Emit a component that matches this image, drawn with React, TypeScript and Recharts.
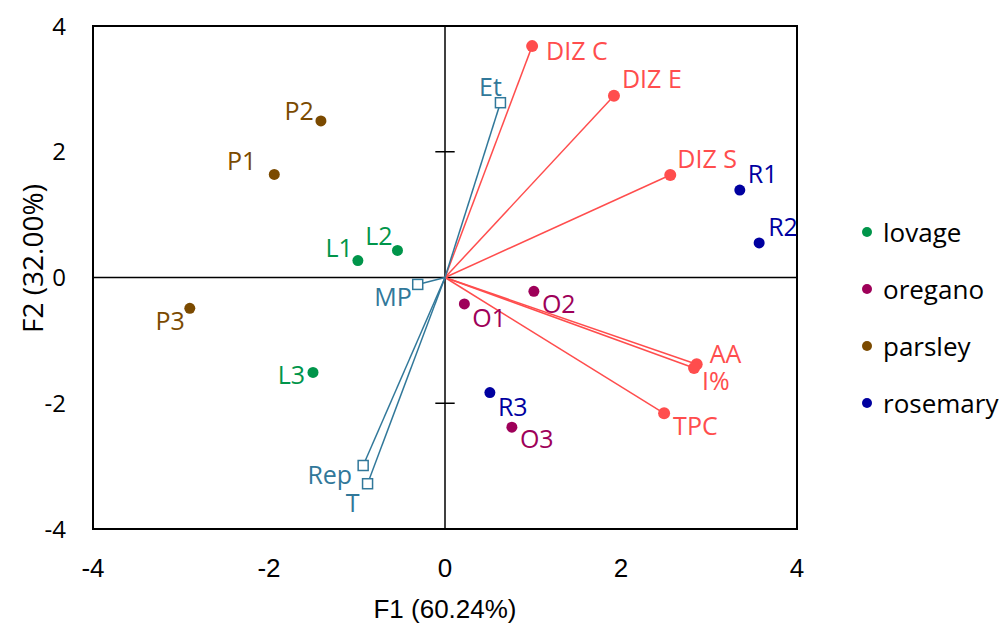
import {
  ReferenceArea,
  ReferenceLine,
  Scatter,
  ScatterChart,
  XAxis,
  YAxis,
} from 'recharts';

// PCA biplot: F1 vs F2 scores for samples, loadings for variables

const axisTicks = [-4, -2, 0, 2, 4];

const groups = ['lovage', 'oregano', 'parsley', 'rosemary'];

const lovage = [
  { name: 'L1', x: -0.99, y: 0.27 },
  { name: 'L2', x: -0.54, y: 0.43 },
  { name: 'L3', x: -1.5, y: -1.51 },
];

const oregano = [
  { name: 'O1', x: 0.22, y: -0.42 },
  { name: 'O2', x: 1.01, y: -0.22 },
  { name: 'O3', x: 0.76, y: -2.38 },
];

const parsley = [
  { name: 'P1', x: -1.94, y: 1.64 },
  { name: 'P2', x: -1.41, y: 2.49 },
  { name: 'P3', x: -2.9, y: -0.49 },
];

const rosemary = [
  { name: 'R1', x: 3.35, y: 1.39 },
  { name: 'R2', x: 3.57, y: 0.55 },
  { name: 'R3', x: 0.51, y: -1.83 },
];

// active variables (red) and supplementary variables (blue)
const activeVars = [
  { name: 'DIZ C', x: 0.99, y: 3.68 },
  { name: 'DIZ E', x: 1.92, y: 2.89 },
  { name: 'DIZ S', x: 2.56, y: 1.63 },
  { name: 'AA', x: 2.86, y: -1.38 },
  { name: 'I%', x: 2.83, y: -1.44 },
  { name: 'TPC', x: 2.49, y: -2.16 },
];

const suppVars = [
  { name: 'Et', x: 0.63, y: 2.78 },
  { name: 'MP', x: -0.31, y: -0.11 },
  { name: 'Rep', x: -0.93, y: -2.99 },
  { name: 'T', x: -0.88, y: -3.28 },
];

const groupData: Record<string, { name: string; x: number; y: number }[]> = {
  lovage,
  oregano,
  parsley,
  rosemary,
};

const groupColors: Record<string, string> = {
  lovage: '#00954A',
  oregano: '#9E0059',
  parsley: '#7B4A00',
  rosemary: '#0000A0',
};

const RED = '#FF4D4D';
const BLUE = '#31789A';

// label offsets from each marker (pixels)
const labelPos: Record<string, { anchor: 'start' | 'middle' | 'end'; dx: number; dy: number }> = {
  L1: { anchor: 'end', dx: -5, dy: -14 },
  L2: { anchor: 'end', dx: -5, dy: -15 },
  L3: { anchor: 'end', dx: -8, dy: 2 },
  O1: { anchor: 'start', dx: 8, dy: 13 },
  O2: { anchor: 'start', dx: 8, dy: 12 },
  O3: { anchor: 'start', dx: 8, dy: 11 },
  P1: { anchor: 'end', dx: -18, dy: -14 },
  P2: { anchor: 'end', dx: -7, dy: -11 },
  P3: { anchor: 'end', dx: -5, dy: 12 },
  R1: { anchor: 'start', dx: 8, dy: -17 },
  R2: { anchor: 'start', dx: 9, dy: -17 },
  R3: { anchor: 'start', dx: 8, dy: 13 },
  'DIZ C': { anchor: 'start', dx: 14, dy: 4 },
  'DIZ E': { anchor: 'start', dx: 8, dy: -18 },
  'DIZ S': { anchor: 'start', dx: 7, dy: -17 },
  AA: { anchor: 'start', dx: 13, dy: -11 },
  'I%': { anchor: 'start', dx: 8, dy: 12 },
  TPC: { anchor: 'start', dx: 9, dy: 12 },
  Et: { anchor: 'middle', dx: -10, dy: -17 },
  MP: { anchor: 'end', dx: -6, dy: 12 },
  Rep: { anchor: 'end', dx: -11, dy: 9 },
  T: { anchor: 'end', dx: -8, dy: 18 },
};

const FONT = '"Open Sans", sans-serif';
const NARROW = '"Liberation Sans Narrow", "Arial Narrow", sans-serif';

function markerShape(color: string, kind: 'dot' | 'bigdot' | 'square') {
  return (props: any) => {
    const { cx, cy, payload } = props;
    const p = labelPos[payload.name];
    return (
      <g>
        {kind === 'square' ? (
          <rect
            x={cx - 5}
            y={cy - 5}
            width={10}
            height={10}
            fill="#fff"
            stroke={color}
            strokeWidth={1.5}
          />
        ) : (
          <circle cx={cx} cy={cy} r={kind === 'bigdot' ? 6 : 5.5} fill={color} />
        )}
        <text
          x={cx + p.dx}
          y={cy + p.dy}
          textAnchor={p.anchor}
          dominantBaseline="central"
          fill={color}
          fontSize={25}
          fontFamily={FONT}
        >
          {payload.name}
        </text>
      </g>
    );
  };
}

function YTitle(props: any) {
  const { viewBox } = props;
  const x = 32;
  const y = viewBox.y + viewBox.height / 2 - 19;
  return (
    <text
      x={x}
      y={y}
      transform={`rotate(-90 ${x} ${y})`}
      textAnchor="middle"
      dominantBaseline="central"
      fill="#000"
      fontSize={28}
      fontFamily={FONT}
    >
      F2 (32.00%)
    </text>
  );
}

function GroupLegend() {
  return (
    <div
      style={{
        position: 'absolute',
        left: 857,
        top: 203,
        width: 143,
        fontFamily: FONT,
        fontSize: 26,
        color: '#000',
      }}
    >
      {groups.map((g) => (
        <div key={g} style={{ display: 'flex', alignItems: 'center', height: 57 }}>
          <svg width={22} height={14}>
            <circle cx={10} cy={7} r={5} fill={groupColors[g]} />
          </svg>
          <span style={{ marginLeft: 4 }}>{g}</span>
        </div>
      ))}
    </div>
  );
}

export default function App() {
  return (
    <div style={{ position: 'absolute', left: 0, top: 0, width: 1000, height: 624, background: '#fff' }}>
      <ScatterChart
        width={1000}
        height={624}
        margin={{ top: 26, right: 203, bottom: 0, left: 0 }}
      >
        <XAxis
          type="number"
          dataKey="x"
          domain={[-4, 4]}
          ticks={axisTicks}
          allowDataOverflow
          axisLine={false}
          tickLine={false}
          tickSize={0}
          tickMargin={30}
          height={95}
          tick={{ fill: '#000', fontSize: 26, fontFamily: NARROW }}
          label={{
            value: 'F1 (60.24%)',
            position: 'insideBottom',
            offset: 6,
            style: { fill: '#000', fontSize: 26, fontFamily: NARROW },
          }}
        />
        <YAxis
          type="number"
          dataKey="y"
          domain={[-4, 4]}
          ticks={axisTicks}
          allowDataOverflow
          axisLine={false}
          tickLine={false}
          tickSize={0}
          tickMargin={27}
          width={93}
          tick={{ fill: '#000', fontSize: 24, fontFamily: FONT }}
          label={<YTitle />}
        />
        <ReferenceArea x1={-4} x2={4} y1={-4} y2={4} fill="none" stroke="#000" strokeWidth={2} />
        <ReferenceLine x={0} stroke="#000" strokeWidth={1.5} />
        <ReferenceLine y={0} stroke="#000" strokeWidth={1.5} />
        {[2, -2].map((t) => (
          <ReferenceLine
            key={t}
            segment={[
              { x: -0.11, y: t },
              { x: 0.11, y: t },
            ]}
            stroke="#000"
            strokeWidth={1.5}
          />
        ))}
        {activeVars.map((v) => (
          <ReferenceLine
            key={v.name}
            segment={[
              { x: 0, y: 0 },
              { x: v.x, y: v.y },
            ]}
            stroke={RED}
            strokeWidth={1.5}
          />
        ))}
        {suppVars.map((v) => (
          <ReferenceLine
            key={v.name}
            segment={[
              { x: 0, y: 0 },
              { x: v.x, y: v.y },
            ]}
            stroke={BLUE}
            strokeWidth={1.5}
          />
        ))}
        <Scatter
          name="active"
          data={activeVars}
          fill={RED}
          shape={markerShape(RED, 'bigdot')}
          isAnimationActive={false}
        />
        <Scatter
          name="supplementary"
          data={suppVars}
          fill={BLUE}
          shape={markerShape(BLUE, 'square')}
          isAnimationActive={false}
        />
        {groups.map((g) => (
          <Scatter
            key={g}
            name={g}
            data={groupData[g]}
            fill={groupColors[g]}
            shape={markerShape(groupColors[g], 'dot')}
            isAnimationActive={false}
          />
        ))}
      </ScatterChart>
      <GroupLegend />
    </div>
  );
}
